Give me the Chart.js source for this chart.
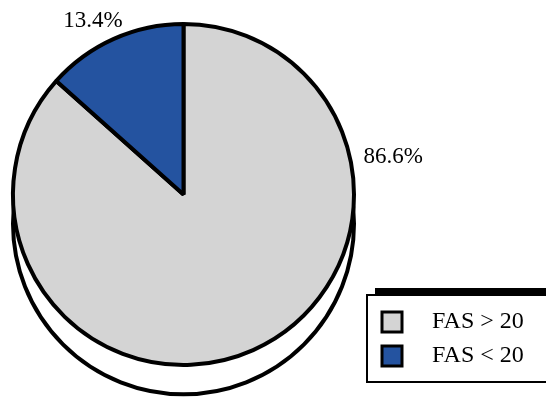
<!DOCTYPE html>
<html>
<head>
<meta charset="utf-8">
<script src="https://cdn.jsdelivr.net/npm/chart.js@4/dist/chart.umd.min.js"></script>
<style>
  body { margin: 0; background: #fff; }
  canvas { display: block; }
</style>
</head>
<body>
<canvas id="fasChart" width="546" height="399"></canvas>
<script>
  const categories = ['FAS > 20', 'FAS < 20'];
  const shares = [86.6, 13.4];
  const shareLabels = ['86.6%', '13.4%'];
  const sliceColors = ['#d4d4d4', '#2453a0'];

  const fontFamily = '"Liberation Serif", "DejaVu Serif", serif';

  // white "depth" disc under the pie
  const pieDepth = {
    id: 'pieDepth',
    beforeDatasetsDraw(chart) {
      const arc = chart.getDatasetMeta(0).data[0];
      if (!arc) return;
      const ctx = chart.ctx;
      const depth = arc.outerRadius * 0.172;
      ctx.save();
      ctx.beginPath();
      ctx.arc(arc.x, arc.y + depth, arc.outerRadius, 0, Math.PI * 2);
      ctx.fillStyle = '#fff';
      ctx.fill();
      ctx.lineWidth = 4;
      ctx.strokeStyle = '#000';
      ctx.stroke();
      ctx.restore();
    }
  };

  // percentage labels around the pie (angle from top, distance as multiple of radius)
  const pctLabels = {
    id: 'pctLabels',
    afterDatasetsDraw(chart, args, opts) {
      const meta = chart.getDatasetMeta(0);
      const ctx = chart.ctx;
      ctx.save();
      ctx.font = '23px ' + fontFamily;
      ctx.fillStyle = '#000';
      ctx.textAlign = 'center';
      ctx.textBaseline = 'middle';
      meta.data.forEach((arc, i) => {
        const a = opts.angles[i] * Math.PI / 180;
        const d = arc.outerRadius * opts.dist[i];
        ctx.fillText(shareLabels[i], arc.x + Math.sin(a) * d, arc.y - Math.cos(a) * d);
      });
      ctx.restore();
    }
  };

  // boxed legend with offset shadow, bottom right
  const boxLegend = {
    id: 'boxLegend',
    afterDraw(chart) {
      const ctx = chart.ctx;
      const left = 367, top = 295, w = 185, h = 87;
      ctx.save();
      ctx.fillStyle = '#000';
      ctx.fillRect(left + 8, top - 7, w, h);
      ctx.fillStyle = '#fff';
      ctx.fillRect(left, top, w, h);
      ctx.lineWidth = 2;
      ctx.strokeStyle = '#000';
      ctx.strokeRect(left, top, w, h);
      ctx.font = '24px ' + fontFamily;
      ctx.textBaseline = 'middle';
      ctx.textAlign = 'left';
      categories.forEach((label, i) => {
        const cy = top + 27 + i * 34;
        ctx.fillStyle = sliceColors[i];
        ctx.fillRect(382, cy - 10, 20, 20);
        ctx.lineWidth = 3;
        ctx.strokeRect(382, cy - 10, 20, 20);
        ctx.fillStyle = '#000';
        ctx.fillText(label, 432, cy);
      });
      ctx.restore();
    }
  };

  const fasChart = new Chart(document.getElementById('fasChart'), {
    type: 'pie',
    data: {
      labels: categories,
      datasets: [{
        data: shares,
        backgroundColor: sliceColors,
        borderColor: '#000',
        borderWidth: 4
      }]
    },
    options: {
      responsive: false,
      animation: false,
      layout: {
        padding: { left: 11, right: 190, top: 22, bottom: 32 }
      },
      plugins: {
        legend: { display: false },
        tooltip: { enabled: false },
        pctLabels: { angles: [79.8, -27.5], dist: [1.25, 1.15] }
      }
    },
    plugins: [pieDepth, pctLabels, boxLegend]
  });
</script>
</body>
</html>
